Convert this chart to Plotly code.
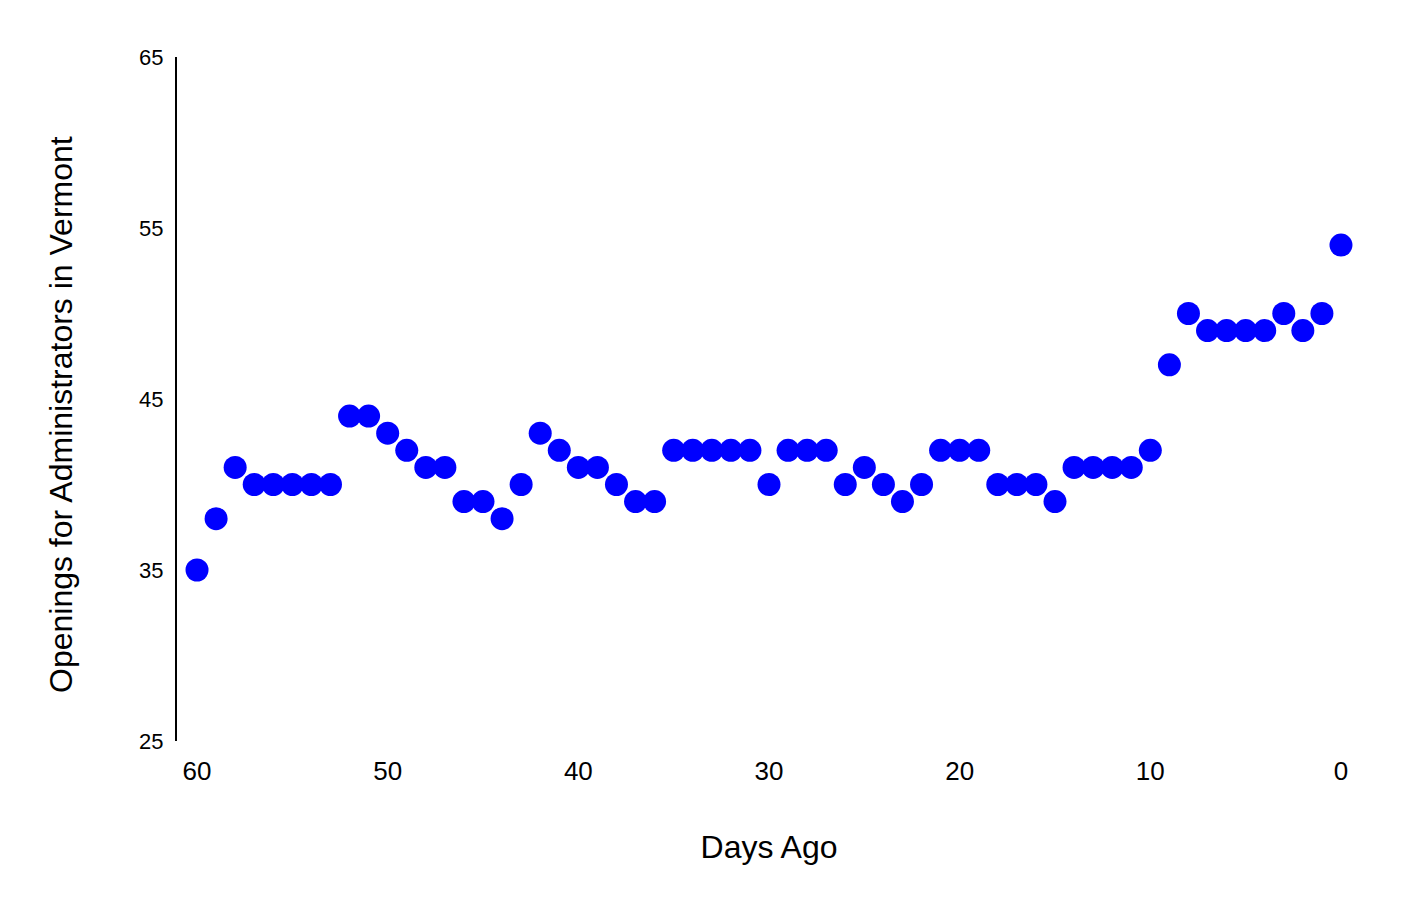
import plotly.graph_objects as go

days_ago = list(range(60, -1, -1))
openings = [35, 38, 41, 40, 40, 40, 40, 40, 44, 44,
            43, 42, 41, 41, 39, 39, 38, 40, 43, 42,
            41, 41, 40, 39, 39, 42, 42, 42, 42, 42,
            40, 42, 42, 42, 40, 41, 40, 39, 40, 42,
            42, 42, 40, 40, 40, 39, 41, 41, 41, 41,
            42, 47, 50, 49, 49, 49, 49, 50, 49, 50,
            54]
x_ticks = [60, 50, 40, 30, 20, 10, 0]
y_ticks = [25, 35, 45, 55, 65]

fig = go.Figure(go.Scatter(
    x=days_ago, y=openings, mode="markers",
    marker=dict(color="#0000ff", size=23, line=dict(width=0)),
    cliponaxis=False,
))

font = "Liberation Sans, Arial, sans-serif"
fig.update_layout(
    width=1406, height=910,
    margin=dict(l=169, r=53, t=49, b=177),
    paper_bgcolor="white", plot_bgcolor="white",
    showlegend=False,
    font=dict(family=font, color="black"),
    xaxis=dict(
        range=[61.05, -1.05], tickvals=x_ticks, showgrid=False, zeroline=False,
        showline=False, ticks="", tickfont=dict(size=26), ticklabelstandoff=12,
        title=dict(text="Days Ago", font=dict(size=32), standoff=50),
    ),
    yaxis=dict(
        range=[25, 65], tickvals=y_ticks, showgrid=False, zeroline=False,
        showline=True, linecolor="black", linewidth=2, ticks="",
        tickfont=dict(size=22), ticklabelstandoff=7,
    ),
    annotations=[dict(
        text="Openings for Administrators in Vermont", textangle=-90,
        xref="paper", yref="paper", x=0, y=0.5, xanchor="center", yanchor="middle",
        xshift=-116, yshift=-16, showarrow=False, font=dict(size=32, family=font),
    )],
)
fig.write_html("out.html")
